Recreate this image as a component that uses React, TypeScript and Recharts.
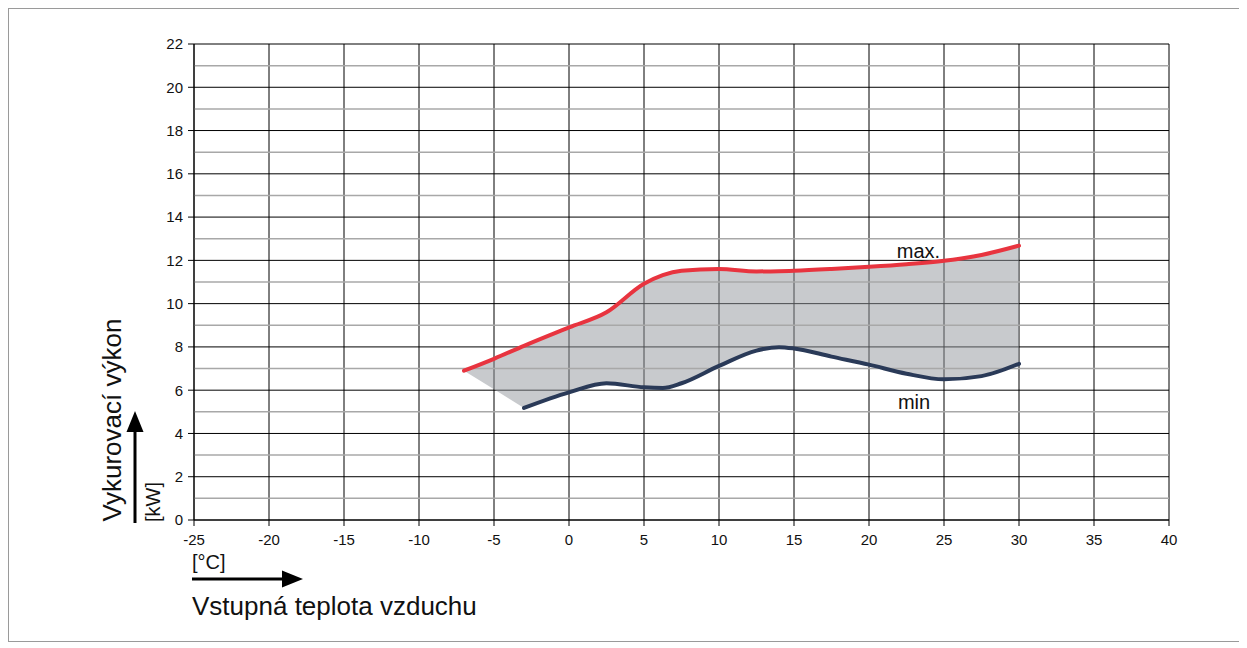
import React from 'react';
import {
  ComposedChart,
  Area,
  Line,
  XAxis,
  YAxis,
  CartesianGrid,
  ReferenceLine,
  ReferenceDot,
} from 'recharts';

// outdoor air temperature [°C]
const temps = [-7, -5, -3, 0, 2.5, 5, 6.25, 7.5, 10, 12.5, 14, 15, 17.5, 20, 22.5, 25, 27.5, 30];
// heating power [kW]
const maxKw = [6.9, 7.45, 8.05, 8.9, 9.6, 10.92, 11.32, 11.52, 11.6, 11.49, 11.5, 11.52, 11.6, 11.7, 11.82, 11.98, 12.25, 12.68];
const minKw = [null, null, 5.18, 5.9, 6.32, 6.13, 6.1, 6.32, 7.12, 7.83, 7.99, 7.93, 7.55, 7.18, 6.76, 6.5, 6.65, 7.22];
// lower edge of the band before the min curve starts
const leftEdge = [6.9, 6.04, 5.18];

const xTicks = [-25, -20, -15, -10, -5, 0, 5, 10, 15, 20, 25, 30, 35, 40];
const yTicks = [0, 2, 4, 6, 8, 10, 12, 14, 16, 18, 20, 22];
const yMinor = [1, 3, 5, 7, 9, 11, 13, 15, 17, 19, 21];

const data = temps.map((t, i) => ({
  t,
  max: maxKw[i],
  min: minKw[i],
  edge: i < leftEdge.length ? [leftEdge[i], maxKw[i]] : null,
  band: minKw[i] != null ? [minKw[i], maxKw[i]] : null,
}));

const FONT = '"Liberation Sans", Arial, sans-serif';

export default function App() {
  return (
    <div
      style={{
        position: 'relative',
        width: 1231,
        height: 632,
        border: '1px solid #9a9a9a',
        fontFamily: FONT,
        background: '#fff',
      }}
    >
      <ComposedChart
        width={1231}
        height={632}
        data={data}
        margin={{ top: 35, right: 71, bottom: 91, left: 125 }}
        style={{ position: 'absolute', left: 0, top: 0 }}
      >
        <CartesianGrid stroke="#000" strokeWidth={1} />
        {yMinor.map((v) => (
          <ReferenceLine key={v} y={v} stroke="#a8a8a8" strokeWidth={1.5} />
        ))}
        <XAxis
          dataKey="t"
          type="number"
          domain={[-25, 40]}
          ticks={xTicks}
          interval={0}
          stroke="#000"
          tickSize={6}
          tickMargin={8}
          height={30}
          tick={{ fill: '#111', fontSize: 15, fontFamily: FONT }}
        />
        <YAxis
          type="number"
          domain={[0, 22]}
          ticks={yTicks}
          interval={0}
          stroke="#000"
          tickSize={6}
          tickMargin={5}
          width={60}
          tick={{ fill: '#111', fontSize: 15, fontFamily: FONT }}
        />
        <Area
          type="linear"
          dataKey="edge"
          stroke="none"
          fill="#91959b"
          fillOpacity={0.5}
          isAnimationActive={false}
          activeDot={false}
        />
        <Area
          type="monotone"
          dataKey="band"
          stroke="none"
          fill="#91959b"
          fillOpacity={0.5}
          isAnimationActive={false}
          activeDot={false}
        />
        <Line
          type="monotone"
          dataKey="max"
          stroke="#e8343f"
          strokeWidth={4}
          strokeLinecap="round"
          dot={false}
          activeDot={false}
          isAnimationActive={false}
        />
        <Line
          type="monotone"
          dataKey="min"
          stroke="#2a3a58"
          strokeWidth={4}
          strokeLinecap="round"
          dot={false}
          activeDot={false}
          connectNulls={false}
          isAnimationActive={false}
        />
        <ReferenceDot
          x={23.3}
          y={12.43}
          r={0}
          stroke="none"
          label={{ value: 'max.', position: 'center', fontSize: 20, fill: '#111', fontFamily: FONT }}
        />
        <ReferenceDot
          x={23.0}
          y={5.45}
          r={0}
          stroke="none"
          label={{ value: 'min', position: 'center', fontSize: 20, fill: '#111', fontFamily: FONT }}
        />
      </ComposedChart>
      <svg
        width={1231}
        height={632}
        style={{ position: 'absolute', left: 0, top: 0, pointerEvents: 'none' }}
      >
        <text
          x={103}
          y={411}
          transform="rotate(-90 103 411)"
          textAnchor="middle"
          dominantBaseline="central"
          fontSize={26}
          fill="#111"
          fontFamily={FONT}
        >
          Vykurovací výkon
        </text>
        <line x1={126} y1={514} x2={126} y2={420} stroke="#000" strokeWidth={3} />
        <polygon points="126,402 117.5,423 134.5,423" fill="#000" />
        <text
          x={143.5}
          y={493}
          transform="rotate(-90 143.5 493)"
          textAnchor="middle"
          dominantBaseline="central"
          fontSize={20}
          fill="#111"
          fontFamily={FONT}
        >
          [kW]
        </text>
        <text x={183} y={553} dominantBaseline="central" fontSize={20} fill="#111" fontFamily={FONT}>
          [°C]
        </text>
        <line x1={183} y1={570} x2={276} y2={570} stroke="#000" strokeWidth={3} />
        <polygon points="294,570 273,561.5 273,578.5" fill="#000" />
        <text x={183} y={606} fontSize={26} fill="#111" fontFamily={FONT}>
          Vstupná teplota vzduchu
        </text>
      </svg>
    </div>
  );
}
